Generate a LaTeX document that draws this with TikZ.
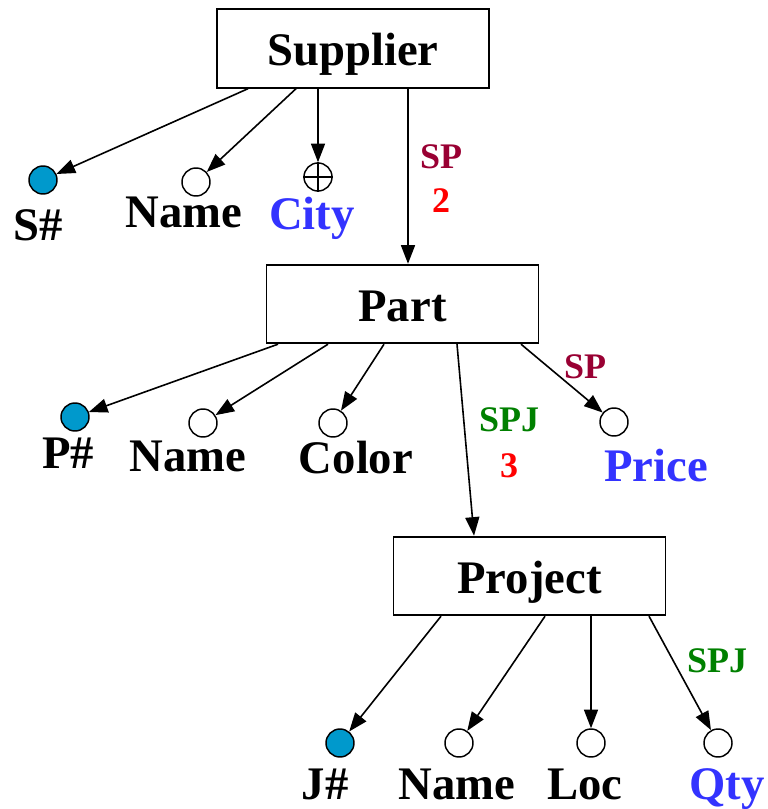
\documentclass[tikz,border=0pt]{standalone}
\usepackage{fontspec}
\setmainfont{Liberation Serif}
\usetikzlibrary{arrows.meta,calc}
\definecolor{keyfill}{RGB}{0,153,204}
\definecolor{attblue}{RGB}{51,51,255}
\definecolor{spred}{RGB}{153,0,51}
\definecolor{spjgreen}{RGB}{0,128,0}
\definecolor{numred}{RGB}{255,0,0}
\begin{document}
\begin{tikzpicture}[x=0.75pt,y=-0.75pt,
  entity/.style={draw,line width=1.3pt,minimum width=204pt,minimum height=59pt,inner sep=0pt,
     text height=30pt,text depth=4pt,
     font=\fontsize{35}{40}\selectfont\bfseries},
  attr/.style={draw,circle,line width=1.1pt,minimum size=21pt,inner sep=0pt},
  keyattr/.style={attr,fill=keyfill},
  lab/.style={anchor=base,inner sep=0pt,font=\fontsize{35}{40}\selectfont\bfseries},
  small/.style={anchor=base,inner sep=0pt,font=\fontsize{27}{30}\selectfont\bfseries},
  arr/.style={line width=1.2pt,-{Triangle[length=14pt,width=10.5pt]}}]
\useasboundingbox (0,0) rectangle (767,809);

% entities
\node[entity] (sup) at (353,48.5) {Supplier};
\node[entity] (part) at (402.5,304) {Part};
\node[entity] (proj) at (529.5,576) {Project};

% supplier attributes
\node[keyattr] (sS) at (43,180) {};
\node[attr] (sN) at (196,182) {};
\node[attr] (sC) at (318,177) {};
\draw[line width=1.1pt] (sC.west) -- (sC.east) (sC.north) -- (sC.south);
\node[lab] (lS) at (38,240) {S\#};
\node[lab] (lSN) at (184,228) {Name};
\node[lab,text=attblue] (lSC) at (312,229) {City};

\draw[arr] ($(sup.south)+(-105,0)$) -- (sS);
\draw[arr] ($(sup.south)+(-57,0)$) -- (sN);
\draw[arr] ($(sup.south)+(-35,0)$) -- (sC);
\draw[arr] ($(sup.south)+(55,0)$) -- ($(part.north)+(5.5,0)$);
\node[small,text=spred] (l1) at (441,169) {SP};
\node[small,text=numred] (l2) at (441,213) {2};

% part attributes
\node[keyattr] (pP) at (75,417) {};
\node[attr] (pN) at (203,423) {};
\node[attr] (pC) at (333,423) {};
\node[attr] (pPr) at (614,422) {};
\node[lab] (lP) at (68,468) {P\#};
\node[lab] (lPN) at (188,471) {Name};
\node[lab] (lPC) at (356,473) {Color};
\node[lab,text=attblue] (lPPr) at (656,481) {Price};

\draw[arr] ($(part.south)+(-124.5,0)$) -- (pP);
\draw[arr] ($(part.south)+(-74.5,0)$) -- (pN);
\draw[arr] ($(part.south)+(-18.5,0)$) -- (pC);
\draw[arr] ($(part.south)+(118.5,0)$) -- (pPr);
\draw[arr] ($(part.south)+(54.5,0)$) -- ($(proj.north)+(-55.5,0)$);
\node[small,text=spred] (l3) at (585,378) {SP};
\node[small,text=spjgreen] (l4) at (509,431) {SPJ};
\node[small,text=numred] (l5) at (509,477) {3};

% project attributes
\node[keyattr] (jJ) at (340,743) {};
\node[attr] (jN) at (459,743) {};
\node[attr] (jL) at (591,743) {};
\node[attr] (jQ) at (718,743) {};
\node[lab] (lJ) at (325,799) {J\#};
\node[lab] (lJN) at (457,799) {Name};
\node[lab] (lJL) at (585,799) {Loc};
\node[lab,text=attblue] (lJQ) at (727,799) {Qty};

\draw[arr] ($(proj.south)+(-88.5,0)$) -- (jJ);
\draw[arr] ($(proj.south)+(15.5,0)$) -- (jN);
\draw[arr] ($(proj.south)+(61.5,0)$) -- (jL);
\draw[arr] ($(proj.south)+(119.5,0)$) -- (jQ);
\node[small,text=spjgreen] (l6) at (717,672) {SPJ};
\end{tikzpicture}
\end{document}
